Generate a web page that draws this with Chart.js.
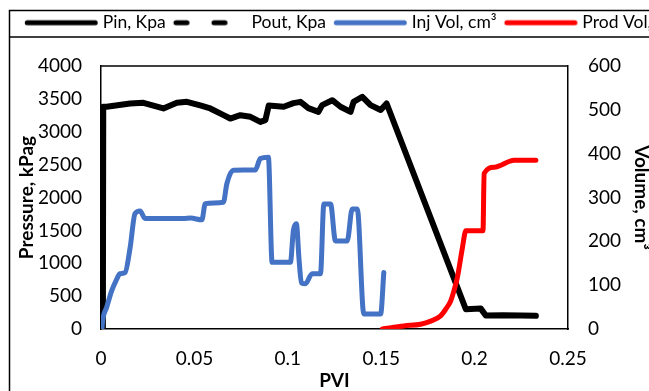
<!DOCTYPE html>
<html>
<head>
<meta charset="utf-8">
<script src="https://cdn.jsdelivr.net/npm/chart.js@4"></script>
<style>
  html, body { margin: 0; padding: 0; overflow: hidden; background: #fff; }
  #wrap { width: 760px; height: 400px; }
</style>
</head>
<body>
<div id="wrap"><canvas id="chart" width="760" height="400"></canvas></div>
<script>
// series (PVI on x)
var pinPvi = [0.001, 0.0012, 0.003, 0.0156, 0.0227, 0.0334, 0.0406, 0.046, 0.0531, 0.0585, 0.0656, 0.0692, 0.0746, 0.08, 0.0853, 0.088, 0.0898,
              0.0978, 0.103, 0.1068, 0.111, 0.1164, 0.1184, 0.1238, 0.1282, 0.1336, 0.1352, 0.1399, 0.1443, 0.1497, 0.1529,
              0.1953, 0.2033, 0.206, 0.215, 0.225, 0.2328];
var pinKpa = [0, 3380, 3380, 3430, 3440, 3354, 3440, 3455, 3400, 3354, 3252, 3201, 3252, 3227, 3150, 3176, 3400,
              3380, 3435, 3455, 3360, 3303, 3405, 3480, 3380, 3303, 3455, 3532, 3405, 3330, 3430,
              300, 310, 205, 210, 205, 200];

var poutPvi = [];
var poutKpa = [];

var injPvi = [0.0005, 0.0009, 0.003, 0.0057, 0.008, 0.0102, 0.0129, 0.0156, 0.0182, 0.0209, 0.0236, 0.044, 0.048, 0.054, 0.0558, 0.0655,
              0.0674, 0.0708, 0.0826, 0.0853, 0.0896, 0.0916, 0.1014, 0.103, 0.1046, 0.106, 0.1073, 0.1094, 0.113, 0.1175, 0.1193,
              0.1229, 0.1255, 0.1318, 0.1345, 0.1372, 0.1407, 0.1497, 0.1514];
var injVol = [0, 20, 49, 87, 110, 126, 129, 186, 263, 269, 252, 252, 253, 249, 286, 289,
              332, 362, 363, 389, 392, 152, 152, 225, 240, 160, 105, 103, 126, 126, 285,
              285, 201, 201, 274, 274, 34, 34, 129];

var prodPvi = [0.1506, 0.1622, 0.1711, 0.1765, 0.1818, 0.1845, 0.1872, 0.189, 0.1908, 0.1935, 0.1953, 0.2045, 0.2051, 0.2105, 0.2212, 0.2328];
var prodVol = [0, 7, 11, 18, 30, 45, 64, 88, 118, 186, 224, 224, 355, 369, 385, 385];

var xTicks = [0, 0.05, 0.1, 0.15, 0.2, 0.25];
var pTicks = [0, 500, 1000, 1500, 2000, 2500, 3000, 3500, 4000];
var vTicks = [0, 100, 200, 300, 400, 500, 600];

function pts(xs, ys) {
  return xs.map(function(x, i) { return { x: x, y: ys[i] }; });
}
function setTicks(list) {
  return function(scale) { scale.ticks = list.map(function(v) { return { value: v }; }); };
}
function plain(v) { return String(v); }

// line swatch used as the legend point style
function legendGlyph(color, dash) {
  var c = document.createElement('canvas');
  c.width = 80; c.height = 8;
  var g = c.getContext('2d');
  g.strokeStyle = color;
  g.lineWidth = 5;
  g.lineCap = 'round';
  g.setLineDash(dash || []);
  g.beginPath();
  g.moveTo(8.25, 4);
  g.lineTo(76.25, 4);
  g.stroke();
  return c;
}

var FONT = 'Lato, "Open Sans", sans-serif';

var framePlugin = {
  id: 'frame',
  beforeInit: function(chart) {
    var fit = chart.legend.fit;
    chart.legend.fit = function() {
      fit.call(this);
      this.height += 24.5;
    };
  },
  beforeDraw: function(chart) {
    var ctx = chart.ctx;
    ctx.save();
    ctx.strokeStyle = '#000';
    ctx.lineWidth = 1.5;
    ctx.strokeRect(9.5, 10.5, chart.width + 20, chart.height + 20);
    ctx.beginPath();
    ctx.moveTo(9, 37);
    ctx.lineTo(chart.width, 37);
    ctx.stroke();
    ctx.restore();
  },
  afterDraw: function(chart) {
    var a = chart.chartArea, ctx = chart.ctx;
    ctx.save();
    ctx.strokeStyle = '#000';
    ctx.lineWidth = 1.5;
    ctx.beginPath();
    ctx.moveTo(a.left, a.top);
    ctx.lineTo(a.right, a.top);
    ctx.stroke();
    ctx.restore();
  }
};

var baseLabels = Chart.defaults.plugins.legend.labels.generateLabels;

new Chart(document.getElementById('chart'), {
  type: 'scatter',
  data: {
    datasets: [{
      label: 'Pin, Kpa',
      data: pts(pinPvi, pinKpa),
      yAxisID: 'y',
      borderColor: '#000',
      backgroundColor: '#000',
      borderWidth: 6,
      borderCapStyle: 'round',
      borderJoinStyle: 'round',
      showLine: true,
      pointRadius: 0,
      order: 4
    }, {
      label: 'Pout, Kpa',
      data: pts(poutPvi, poutKpa),
      yAxisID: 'y',
      borderColor: '#000',
      backgroundColor: '#000',
      borderWidth: 5,
      borderDash: [11, 27],
      borderCapStyle: 'round',
      showLine: true,
      pointRadius: 0,
      order: 3
    }, {
      label: 'Inj Vol, cm³',
      data: pts(injPvi, injVol),
      yAxisID: 'y1',
      borderColor: '#4472C4',
      backgroundColor: '#4472C4',
      borderWidth: 5,
      borderCapStyle: 'round',
      borderJoinStyle: 'round',
      showLine: true,
      cubicInterpolationMode: 'monotone',
      pointRadius: 0,
      order: 2
    }, {
      label: 'Prod Vol, cm³',
      data: pts(prodPvi, prodVol),
      yAxisID: 'y1',
      borderColor: '#FF0000',
      backgroundColor: '#FF0000',
      borderWidth: 5,
      borderCapStyle: 'round',
      borderJoinStyle: 'round',
      showLine: true,
      cubicInterpolationMode: 'monotone',
      pointRadius: 0,
      order: 1
    }]
  },
  options: {
    responsive: false,
    animation: false,
    layout: { padding: { left: 17, top: 7, right: 0, bottom: 0 } },
    plugins: {
      tooltip: { enabled: false },
      legend: {
        position: 'top',
        align: 'start',
        labels: {
          usePointStyle: true,
          pointStyleWidth: 70,
          padding: 7,
          color: '#000',
          font: { family: FONT, size: 17.5 },
          sort: function(a, b) { return a.datasetIndex - b.datasetIndex; },
          generateLabels: function(chart) {
            var items = baseLabels(chart);
            items.forEach(function(it) {
              var ds = chart.data.datasets[it.datasetIndex];
              it.pointStyle = legendGlyph(ds.borderColor, ds.borderDash);
            });
            return items;
          }
        }
      }
    },
    scales: {
      x: {
        type: 'linear',
        min: 0, max: 0.25,
        afterBuildTicks: setTicks(xTicks),
        afterFit: function(s) { s.height = 71; },
        grid: { display: false, drawTicks: true, tickLength: 6, tickColor: '#000' },
        border: { color: '#000', width: 1.5 },
        ticks: { color: '#000', padding: 12, callback: plain, font: { family: FONT, size: 19 } },
        title: { display: true, text: 'PVI', color: '#000', padding: { top: 0, bottom: 8 }, font: { family: FONT, size: 19, weight: 'bold' } }
      },
      y: {
        position: 'left',
        min: 0, max: 4000,
        afterBuildTicks: setTicks(pTicks),
        afterFit: function(s) { s.width = 84; },
        grid: { display: false, drawTicks: true, tickLength: 6, tickColor: '#000' },
        border: { color: '#000', width: 1.5 },
        ticks: { color: '#000', padding: 13, callback: plain, font: { family: FONT, size: 19 } },
        title: { display: true, text: 'Pressure, kPag', color: '#000', padding: { top: -2, bottom: 0 }, font: { family: FONT, size: 19, weight: 'bold' } }
      },
      y1: {
        position: 'right',
        min: 0, max: 600,
        afterBuildTicks: setTicks(vTicks),
        afterFit: function(s) { s.width = 192; },
        grid: { display: false, drawTicks: true, tickLength: 6, tickColor: '#000' },
        border: { color: '#000', width: 1.5 },
        ticks: { color: '#000', padding: 14, callback: plain, font: { family: FONT, size: 19 } },
        title: { display: true, text: 'Volume, cm³', color: '#000', padding: { top: 107, bottom: 0 }, font: { family: FONT, size: 19, weight: 'bold' } }
      }
    }
  },
  plugins: [framePlugin]
});
</script>
</body>
</html>
